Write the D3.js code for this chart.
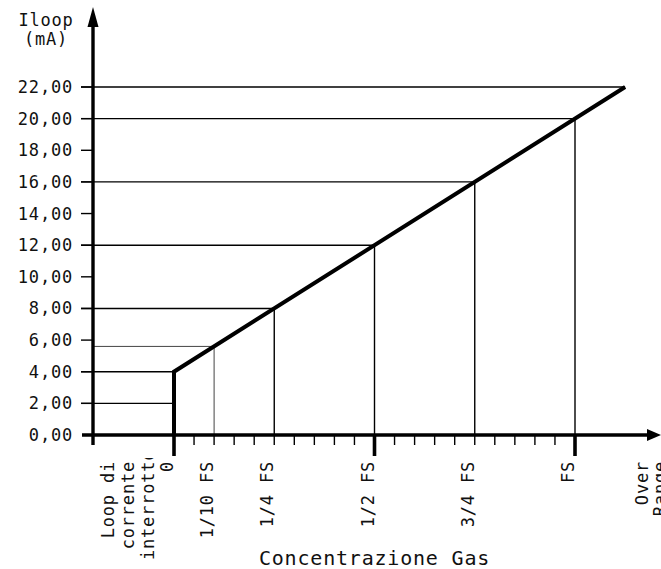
<!DOCTYPE html>
<html><head><meta charset="utf-8">
<script src="https://cdn.jsdelivr.net/npm/d3@7"></script>
<style>
html,body{margin:0;padding:0;background:#fff;}
svg{display:block;}
text{font-family:"DejaVu Sans Mono",monospace;fill:#111;}
</style></head>
<body>
<svg id="chart" width="661" height="569"></svg>
<script>
// ---- data ----
const yTickValues = [0, 2, 4, 6, 8, 10, 12, 14, 16, 18, 20, 22];
// response curve: x in fractions of full scale (FS), y in mA
const curveFS = [0, 0, 1.125];
const curveMA = [0, 4, 22];
// reference levels: horizontal line (mA) drawn from the y axis to the curve
const refMA = [2, 4, 5.6, 8, 12, 16, 20, 22];
const refEndFS = [0, 0, 0.1, 0.25, 0.5, 0.75, 1, 1.125];
// vertical drop lines (FS fraction -> mA)
const dropFS = [0.1, 0.25, 0.5, 0.75, 1];
const dropMA = [5.6, 8, 12, 16, 20];
// x category labels
const xLabelFS = [0, 0.1, 0.25, 0.5, 0.75, 1];
const xLabelText = ["0", "1/10 FS", "1/4 FS", "1/2 FS", "3/4 FS", "FS"];
const majorTicksFS = [0, 0.5, 1];
const minorTicksFS = d3.range(1, 20).map(i => i / 20).filter(v => v !== 0.5);
const loopLabelLines = ["Loop di", "corrente", "interrotto"];
const overLabelLines = ["Over", "Range"];
const yTitleLines = ["Iloop", "(mA)"];
const xTitle = "Concentrazione Gas";

// ---- layout ----
const svg = d3.select("#chart");
const x = d3.scaleLinear().domain([0, 1]).range([174, 575]);
const y = d3.scaleLinear().domain([0, 22]).range([435, 87]);
const axisX = 93;          // position of the vertical axis
const axisLeft = 82;       // left end of horizontal axis
const tickLeft = 81;
const fmt = d3.formatLocale({decimal: ",", thousands: ".", grouping: [3], currency: ["", ""]}).format(".2f");

// clip for overflowing label
svg.append("defs").append("clipPath").attr("id", "lblclip")
  .append("rect").attr("x", 0).attr("y", 458).attr("width", 661).attr("height", 120);

// horizontal reference lines
const refs = refMA.map((v, i) => ({v, end: refEndFS[i]}));
svg.append("g").selectAll("line").data(refs).join("line")
  .attr("x1", d => d.v === 5.6 ? axisX : tickLeft)
  .attr("x2", d => x(d.end))
  .attr("y1", d => y(d.v)).attr("y2", d => y(d.v))
  .attr("stroke", d => d.v === 5.6 ? "#444" : "#000")
  .attr("stroke-width", d => d.v === 5.6 ? 1 : 1.4);

// vertical drop lines
const drops = dropFS.map((f, i) => ({f, v: dropMA[i]}));
svg.append("g").selectAll("line").data(drops).join("line")
  .attr("x1", d => x(d.f)).attr("x2", d => x(d.f))
  .attr("y1", y(0)).attr("y2", d => y(d.v))
  .attr("stroke", d => d.f === 0.1 ? "#444" : "#000")
  .attr("stroke-width", d => d.f === 0.1 ? 1 : 1.4);

// y ticks (short)
svg.append("g").selectAll("line").data(yTickValues.filter(v => v > 0)).join("line")
  .attr("x1", tickLeft).attr("x2", axisX)
  .attr("y1", d => y(d)).attr("y2", d => y(d))
  .attr("stroke", "#000").attr("stroke-width", 1.4);

// y tick labels
svg.append("g").selectAll("text").data(yTickValues).join("text")
  .attr("x", 73).attr("y", d => y(d) + 6)
  .attr("text-anchor", "end")
  .style("font-size", "17px").style("letter-spacing", "0.8px")
  .text(d => fmt(d));

// minor x ticks
svg.append("g").selectAll("line").data(minorTicksFS).join("line")
  .attr("x1", d => x(d)).attr("x2", d => x(d))
  .attr("y1", y(0)).attr("y2", y(0) + 10)
  .attr("stroke", "#000").attr("stroke-width", 1.4);
// major x ticks
svg.append("g").selectAll("line").data(majorTicksFS).join("line")
  .attr("x1", d => x(d)).attr("x2", d => x(d))
  .attr("y1", y(0)).attr("y2", y(0) + 21)
  .attr("stroke", "#000").attr("stroke-width", 3.6);

// axes
svg.append("line").attr("x1", axisLeft).attr("x2", 650).attr("y1", y(0)).attr("y2", y(0))
  .attr("stroke", "#000").attr("stroke-width", 3.4);
svg.append("path").attr("d", `M661,${y(0)} L647,${y(0) - 6} L647,${y(0) + 6} Z`).attr("fill", "#000");
svg.append("line").attr("x1", axisX).attr("x2", axisX).attr("y1", y(0) + 10).attr("y2", 22)
  .attr("stroke", "#000").attr("stroke-width", 3.4);
svg.append("path").attr("d", `M${axisX},7 L${axisX - 5.5},27 L${axisX + 5.5},27 Z`).attr("fill", "#000");

// response curve
const curve = curveFS.map((f, i) => [f, curveMA[i]]);
svg.append("path").datum(curve)
  .attr("d", d3.line().x(d => x(d[0])).y(d => y(d[1])))
  .attr("fill", "none").attr("stroke", "#000").attr("stroke-width", 4)
  .attr("stroke-linejoin", "miter").attr("stroke-linecap", "butt");

// x category labels (rotated)
const labTop = 461;
svg.append("g").selectAll("text").data(xLabelFS.map((f, i) => ({f, t: xLabelText[i]}))).join("text")
  .attr("transform", d => `translate(${x(d.f) - 1},${labTop}) rotate(-90)`)
  .attr("text-anchor", "end")
  .style("font-size", "17px").style("letter-spacing", "0.8px")
  .text(d => d.t);

// "Loop di corrente interrotto" label (last line overflows its box and is clipped, as in the original)
const loopFS = -0.1;
const loopG = svg.append("g").attr("clip-path", "url(#lblclip)");
loopG.selectAll("text").data(loopLabelLines).join("text")
  .attr("transform", (d, i) => i < 2
     ? `translate(${x(loopFS) + (i - 1) * 20},${labTop}) rotate(-90)`
     : `translate(${x(loopFS) + (i - 1) * 20},560) rotate(-90)`)
  .attr("text-anchor", (d, i) => i < 2 ? "end" : "start")
  .style("font-size", "17px").style("letter-spacing", "0.8px")
  .text(d => d);

// "Over Range" label
const overFS = 1.205;
svg.append("g").selectAll("text").data(overLabelLines).join("text")
  .attr("transform", (d, i) => `translate(${x(overFS) + (i - 0.5) * 18},${labTop}) rotate(-90)`)
  .attr("text-anchor", "end")
  .style("font-size", "17px").style("letter-spacing", "0.8px")
  .text(d => d);

// y title
svg.append("g").selectAll("text").data(yTitleLines).join("text")
  .attr("x", 46).attr("y", (d, i) => 26 + i * 19)
  .attr("text-anchor", "middle")
  .style("font-size", "17px").style("letter-spacing", "0.8px")
  .text(d => d);

// x title
svg.append("text").attr("x", x(0.5)).attr("y", 565)
  .attr("text-anchor", "middle")
  .style("font-size", "20px").style("letter-spacing", "0.8px")
  .text(xTitle);
</script>
</body></html>
